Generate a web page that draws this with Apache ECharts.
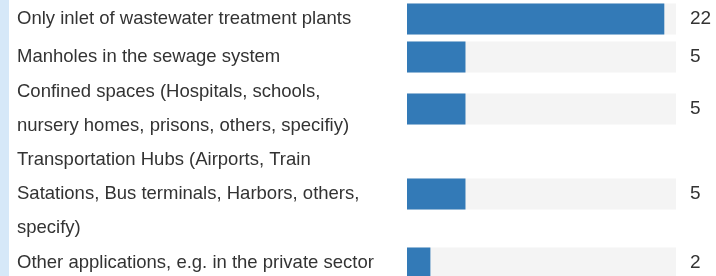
<!DOCTYPE html>
<html>
<head>
<meta charset="utf-8">
<script src="https://cdn.jsdelivr.net/npm/echarts@6/dist/echarts.min.js"></script>
<style>
  html, body { margin: 0; padding: 0; background: #fff; }
  #chart { width: 716px; height: 276px; }
</style>
</head>
<body>
<div id="chart"></div>
<script>
  // categories and counts, top to bottom
  var categories = [
    'Only inlet of wastewater treatment plants',
    'Manholes in the sewage system',
    'Confined spaces (Hospitals, schools, nursery homes, prisons, others, specifiy)',
    'Transportation Hubs (Airports, Train Satations, Bus terminals, Harbors, others, specify)',
    'Other applications, e.g. in the private sector'
  ];
  var counts = [22, 5, 5, 5, 2];
  var axisMax = 23;

  // layout: each row is as tall as its wrapped label
  var lineH = 34;
  var rowLines = [1, 1, 2, 3, 1];
  var rowTop = [2, 40, 75, 143, 246];
  var barLeft = 407, barRight = 40;
  var font = 'Liberation Sans, Arial, sans-serif';

  var grids = [], xAxes = [], yAxes = [], series = [];
  categories.forEach(function (name, i) {
    grids.push({
      left: barLeft, right: barRight,
      top: rowTop[i], height: rowLines[i] * lineH,
      containLabel: false,
      outerBoundsMode: 'none'
    });
    xAxes.push({
      type: 'value', gridIndex: i, min: 0, max: axisMax, show: false
    });
    // category labels on the left
    yAxes.push({
      type: 'category', gridIndex: i, data: [name],
      axisLine: { show: false }, axisTick: { show: false },
      axisLabel: {
        align: 'left', margin: barLeft - 17,
        width: 362, overflow: 'break',
        lineHeight: lineH,
        color: '#333', fontSize: 18.5, fontFamily: font
      }
    });
    // counts on the right
    yAxes.push({
      type: 'category', gridIndex: i, position: 'right', data: [String(counts[i])],
      axisLine: { show: false }, axisTick: { show: false },
      axisLabel: {
        align: 'left', margin: 14,
        color: '#333', fontSize: 19, fontFamily: font
      }
    });
    series.push({
      type: 'bar', xAxisIndex: i, yAxisIndex: i * 2,
      data: [counts[i]], barWidth: 31,
      itemStyle: { color: '#337ab7' },
      showBackground: true,
      backgroundStyle: { color: '#f4f4f4' },
      silent: true
    });
  });

  var myChart = echarts.init(document.getElementById('chart'), null, { renderer: 'canvas' });
  myChart.setOption({
    animation: false,
    backgroundColor: '#fff',
    graphic: [{
      type: 'rect', left: 0, top: 0,
      shape: { width: 9, height: 276 },
      style: { fill: '#d6e8f8' }
    }],
    grid: grids,
    xAxis: xAxes,
    yAxis: yAxes,
    series: series
  });
</script>
</body>
</html>
